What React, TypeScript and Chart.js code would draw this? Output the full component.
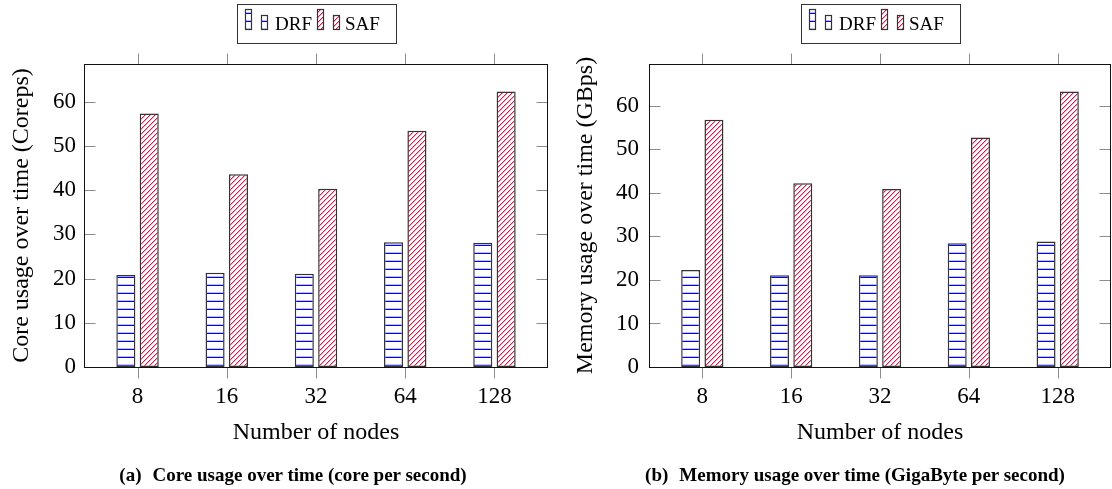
import React, { useEffect, useRef } from "react";
import { Chart, registerables } from "chart.js";

Chart.register(...registerables);

// ---- data ----
const categories = ["8", "16", "32", "64", "128"];
const seriesNames = ["DRF", "SAF"];
const coreDRF = [20.8, 21.3, 21.1, 28.2, 28.1];
const coreSAF = [57.3, 43.6, 40.3, 53.4, 62.3];
const memDRF = [22.3, 21.1, 21.1, 28.4, 28.8];
const memSAF = [56.8, 42.2, 40.9, 52.7, 63.3];
const yTickValues = [0, 10, 20, 30, 40, 50, 60];
const coreYMax = 68.5;
const memYMax = 69.6;

const FONT = "'Liberation Serif', 'Times New Roman', Times, serif";
const CW = 556;
const CH = 489;

function makeHLinePattern(): CanvasPattern {
  const c = document.createElement("canvas");
  c.width = 8;
  c.height = 8;
  const g = c.getContext("2d")!;
  g.fillStyle = "#ffffff";
  g.fillRect(0, 0, 8, 8);
  g.fillStyle = "rgba(0,0,255,0.25)";
  g.fillRect(0, 4, 8, 1);
  g.fillStyle = "#0000ff";
  g.fillRect(0, 5, 8, 1);
  return g.createPattern(c, "repeat")!;
}

function makeDiagPattern(): CanvasPattern {
  const s = 5;
  const c = document.createElement("canvas");
  c.width = s;
  c.height = s;
  const g = c.getContext("2d")!;
  g.fillStyle = "#ffffff";
  g.fillRect(0, 0, s, s);
  for (let i = 0; i < s; i++) {
    g.fillStyle = "rgba(225,20,70,0.35)";
    g.fillRect((i + 1) % s, s - 1 - i, 1, 1);
    g.fillStyle = "#e0144a";
    g.fillRect(i, s - 1 - i, 1, 1);
  }
  return g.createPattern(c, "repeat")!;
}

type Area = { left: number; right: number; top: number; bottom: number };

function buildChart(
  canvas: HTMLCanvasElement,
  drf: number[],
  saf: number[],
  yMax: number,
  yTitle: string,
  area: Area,
  yTitlePad: number,
  yTickPad: number,
  drfPat: CanvasPattern,
  safPat: CanvasPattern
) {
  const framePlugin = {
    id: "frameTicks",
    afterDatasetsDraw(chart: any) {
      const { ctx, chartArea: a, scales } = chart;
      const xs = scales.x;
      const ys = scales.y;
      const L = Math.round(a.left) + 0.5;
      const R = Math.round(a.right) - 0.5;
      const T = Math.round(a.top) + 0.5;
      const B = Math.round(a.bottom) + 0.5;
      ctx.save();
      ctx.strokeStyle = "#8c8c8c";
      ctx.lineWidth = 1;
      ctx.beginPath();
      xs.ticks.forEach((t: any) => {
        const px = Math.round(xs.getPixelForValue(t.value)) + 0.5;
        ctx.moveTo(px, B);
        ctx.lineTo(px, B + 11);
        ctx.moveTo(px, T);
        ctx.lineTo(px, T - 11);
      });
      ys.ticks.forEach((t: any) => {
        if (t.value === 0) return;
        const py = Math.round(ys.getPixelForValue(t.value)) + 0.5;
        ctx.moveTo(L, py);
        ctx.lineTo(L + 11, py);
        ctx.moveTo(R, py);
        ctx.lineTo(R - 11, py);
      });
      ctx.stroke();
      ctx.strokeStyle = "#111";
      ctx.lineWidth = 1;
      ctx.strokeRect(L, T, R - L, B - T);
      ctx.restore();
    },
    afterDraw(chart: any) {
      const { ctx, chartArea: a } = chart;
      const cx = (a.left + a.right) / 2;
      const bx = Math.round(cx - 79.5) + 0.5;
      ctx.save();
      ctx.fillStyle = "#fff";
      ctx.fillRect(bx, 4.5, 159, 39);
      ctx.strokeStyle = "#333";
      ctx.lineWidth = 1;
      ctx.strokeRect(bx, 4.5, 159, 39);
      const sw = (x: number, top: number, h: number, pat: CanvasPattern) => {
        ctx.fillStyle = pat;
        ctx.fillRect(x, top, 6, h);
        ctx.strokeStyle = "#333";
        ctx.lineWidth = 1.2;
        ctx.strokeRect(x, top, 6, h);
      };
      ctx.font = `19px ${FONT}`;
      ctx.textBaseline = "alphabetic";
      ctx.textAlign = "left";
      sw(bx + 8, 9.5, 20, drfPat);
      sw(bx + 24, 15.5, 14, drfPat);
      ctx.fillStyle = "#000";
      ctx.fillText(seriesNames[0], bx + 37.5, 29.5);
      sw(bx + 80, 9.5, 20, safPat);
      sw(bx + 96, 15.5, 14, safPat);
      ctx.fillStyle = "#000";
      ctx.fillText(seriesNames[1], bx + 107.5, 29.5);
      ctx.restore();
    },
  };

  const tickFont = { family: FONT, size: 23 };
  const titleFont = { family: FONT, size: 24 };

  return new Chart(canvas, {
    type: "bar",
    data: {
      datasets: [
        {
          label: seriesNames[0],
          data: drf.map((v, i) => ({ x: i, y: v })),
          backgroundColor: drfPat as any,
          borderColor: "#333",
          borderWidth: 1.5,
          borderSkipped: false,
        },
        {
          label: seriesNames[1],
          data: saf.map((v, i) => ({ x: i, y: v })),
          backgroundColor: safPat as any,
          borderColor: "#333",
          borderWidth: 1.5,
          borderSkipped: false,
        },
      ],
    },
    options: {
      responsive: false,
      animation: false,
      devicePixelRatio: 1,
      events: [],
      layout: { padding: { left: 0, right: CW - area.right, top: area.top, bottom: 0 } },
      datasets: { bar: { categoryPercentage: 0.524, barPercentage: 0.815 } },
      plugins: { legend: { display: false }, tooltip: { enabled: false }, title: { display: false } },
      scales: {
        x: {
          type: "linear",
          min: -0.6,
          max: 4.6,
          offset: false,
          afterBuildTicks: (s: any) => {
            s.ticks = categories.map((_, i) => ({ value: i }));
          },
          afterFit: (s: any) => {
            s.height = CH - area.bottom;
          },
          grid: { display: false, offset: false, drawTicks: false },
          border: { display: false },
          ticks: {
            padding: 16,
            font: tickFont,
            color: "#000",
            autoSkip: false,
            maxRotation: 0,
            callback: (v: any) => categories[v] ?? "",
          },
          title: {
            display: true,
            text: "Number of nodes",
            font: titleFont,
            color: "#000",
            padding: { top: 0, bottom: 42 },
          },
        },
        y: {
          type: "linear",
          min: 0,
          max: yMax,
          afterBuildTicks: (s: any) => {
            s.ticks = yTickValues.map((v) => ({ value: v }));
          },
          afterFit: (s: any) => {
            s.width = area.left;
          },
          grid: { display: false, drawTicks: false },
          border: { display: false },
          ticks: { padding: yTickPad, font: tickFont, color: "#000" },
          title: {
            display: true,
            text: yTitle,
            font: titleFont,
            color: "#000",
            padding: { top: yTitlePad, bottom: 0 },
          },
        },
      },
    },
    plugins: [framePlugin],
  } as any);
}

export default function App() {
  const leftRef = useRef<HTMLCanvasElement>(null);
  const rightRef = useRef<HTMLCanvasElement>(null);

  useEffect(() => {
    const drfPat = makeHLinePattern();
    const safPat = makeDiagPattern();
    const c1 = buildChart(
      leftRef.current!,
      coreDRF,
      coreSAF,
      coreYMax,
      "Core usage over time (Coreps)",
      { left: 84, right: 548, top: 64, bottom: 367 },
      7,
      8,
      drfPat,
      safPat
    );
    const c2 = buildChart(
      rightRef.current!,
      memDRF,
      memSAF,
      memYMax,
      "Memory usage over time (GBps)",
      { left: 93, right: 555, top: 64, bottom: 367 },
      15,
      10,
      drfPat,
      safPat
    );
    return () => {
      c1.destroy();
      c2.destroy();
    };
  }, []);

  const capStyle: React.CSSProperties = {
    position: "absolute",
    top: 464,
    width: 600,
    textAlign: "center",
    fontFamily: FONT,
    fontWeight: "bold",
    fontSize: "19px",
    lineHeight: "21px",
    whiteSpace: "nowrap",
    color: "#000",
  };

  return (
    <div style={{ position: "absolute", left: 0, top: 0, width: 1112, height: 489, background: "#fff", overflow: "hidden" }}>
      <canvas ref={leftRef} width={CW} height={CH} style={{ position: "absolute", left: 0, top: 0, display: "block" }} />
      <canvas ref={rightRef} width={CW} height={CH} style={{ position: "absolute", left: 556, top: 0, display: "block" }} />
      <div style={{ ...capStyle, left: 293 - 300 }}>
        <span>(a)</span>
        <span style={{ marginLeft: 11 }}>Core usage over time (core per second)</span>
      </div>
      <div style={{ ...capStyle, left: 855 - 300 }}>
        <span>(b)</span>
        <span style={{ marginLeft: 11 }}>Memory usage over time (GigaByte per second)</span>
      </div>
    </div>
  );
}
